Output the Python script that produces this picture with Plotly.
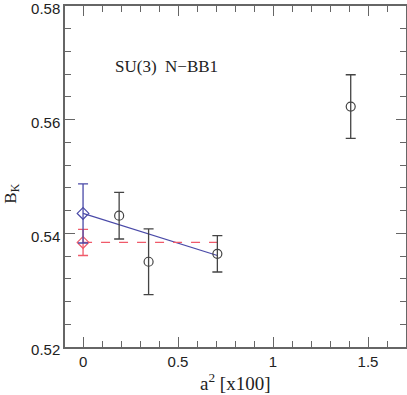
"""B_K vs a^2 for SU(3) N-BB1."""
import plotly.graph_objects as go

# lattice points
a2 = [0.19, 0.345, 0.707, 1.409]
bk = [0.5431, 0.5350, 0.5364, 0.5623]
bk_err = [0.0041, 0.0058, 0.0032, 0.0056]

# continuum extrapolations at a^2 = 0
lin_x = [0.0, 0.707]
lin_y = [0.5435, 0.5361]
lin_err = 0.0052
const_x = [0.0, 0.707]
const_y = [0.5384, 0.5384]
const_err = 0.0023

blue = '#4a4aa8'
red = '#f05a6a'
grey = '#444444'
serif = 'Liberation Serif'

fig = go.Figure()

# linear fit
fig.add_trace(go.Scatter(
    x=lin_x, y=lin_y, mode='lines',
    line=dict(color=blue, width=1.2),
))
# constant fit (dashed)
fig.add_trace(go.Scatter(
    x=const_x, y=const_y, mode='lines',
    line=dict(color=red, width=1.2, dash='dash'),
))
fig.add_trace(go.Scatter(
    x=[const_x[0]], y=[const_y[0]], mode='markers',
    marker=dict(symbol='diamond-open', size=9, color=red, line=dict(width=1.2)),
    error_y=dict(type='constant', value=const_err, color=red, thickness=1.3, width=5),
))
fig.add_trace(go.Scatter(
    x=[lin_x[0]], y=[lin_y[0]], mode='markers',
    marker=dict(symbol='diamond-open', size=9, color=blue, line=dict(width=1.2)),
    error_y=dict(type='constant', value=lin_err, color=blue, thickness=1.3, width=5),
))
fig.add_trace(go.Scatter(
    x=a2, y=bk, mode='markers',
    marker=dict(symbol='circle-open', size=9, color=grey, line=dict(width=1.2)),
    error_y=dict(type='data', array=bk_err, color=grey, thickness=1.3, width=5),
))

fig.add_annotation(
    x=0.158, y=0.5693, xref='x', yref='y', xanchor='left', yanchor='middle',
    text='SU(3)  N\u2212BB1', showarrow=False,
    font=dict(family=serif, size=17, color='#222222'),
)
# axis titles
fig.add_annotation(
    x=0.5, y=-0.103, xref='paper', yref='paper', xanchor='center', yanchor='middle',
    text='a<sup>2</sup> [x100]', showarrow=False,
    font=dict(family=serif, size=19, color='#222222'),
)
fig.add_annotation(
    x=-0.158, y=0.45, xref='paper', yref='paper', xanchor='center', yanchor='middle',
    text='B<sub>K</sub>', showarrow=False, textangle=-90,
    font=dict(family=serif, size=17, color='#222222'),
)

axis_common = dict(
    showgrid=False, zeroline=False, showline=True, linecolor='#666666',
    linewidth=1.5, mirror='allticks', ticks='inside', ticklen=10,
    tickcolor='#666666', tickwidth=1.2, automargin=False,
    ticklabeloverflow='allow',
    tickfont=dict(family='Liberation Sans', size=15, color='#222222'),
)

fig.update_xaxes(
    range=[-0.095, 1.70], tickvals=[0, 0.5, 1, 1.5], ticktext=['0', '0.5', '1', '1.5'],
    minor=dict(dtick=0.1, tick0=0, ticks='inside', ticklen=6, tickcolor='#666666'),
    **axis_common,
)
fig.update_yaxes(
    range=[0.52, 0.58], tickvals=[0.52, 0.54, 0.56, 0.58],
    ticktext=['0.52', '0.54', '0.56', '0.58'], ticklabelshift=3,
    minor=dict(dtick=0.004, tick0=0.52, ticks='inside', ticklen=6, tickcolor='#666666'),
    **axis_common,
)

fig.update_layout(
    width=407, height=395, showlegend=False,
    margin=dict(l=65, r=1, t=6, b=48),
    plot_bgcolor='white', paper_bgcolor='white',
)

# the page body has a default margin that shifts the figure
fig.write_html("out.html", config={'displayModeBar': False},
               post_script="document.body.style.margin='0';")
